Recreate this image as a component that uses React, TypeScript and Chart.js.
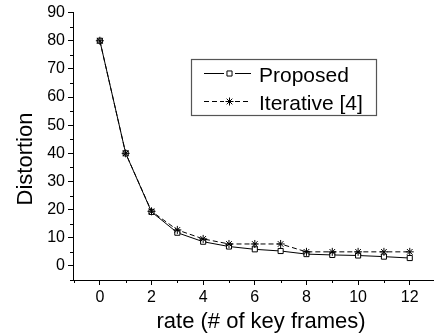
import React, { useEffect, useRef } from "react";
import { Chart, registerables } from "chart.js";

Chart.register(...registerables);

const rates = [0, 1, 2, 3, 4, 5, 6, 7, 8, 9, 10, 11, 12];
const proposed = [80, 40, 19.2, 11.8, 8.6, 6.9, 5.9, 5.3, 4.2, 3.9, 3.7, 3.3, 2.8];
const iterative = [80, 40, 19.4, 12.8, 9.6, 7.8, 7.8, 7.8, 5.0, 5.0, 5.0, 5.0, 5.0];
const seriesNames = ["Proposed", "Iterative [4]"];
const xTicks = [0, 2, 4, 6, 8, 10, 12];
const xMinorTicks = [-1, 1, 3, 5, 7, 9, 11];
const yTicks = [0, 10, 20, 30, 40, 50, 60, 70, 80, 90];
const yMinorTicks = [-5, 5, 15, 25, 35, 45, 55, 65, 75, 85];
const xTitle = "rate (# of key frames)";
const yTitle = "Distortion";

const FONT = "'Liberation Sans', Arial, sans-serif";

function drawMarker(ctx: CanvasRenderingContext2D, style: string, r: number, x: number, y: number) {
  ctx.save();
  ctx.strokeStyle = "#000";
  ctx.lineWidth = 1;
  ctx.setLineDash([]);
  if (style === "rect") {
    const s = Math.SQRT1_2 * r;
    ctx.fillStyle = "#fff";
    ctx.beginPath();
    ctx.rect(x - s, y - s, 2 * s, 2 * s);
    ctx.fill();
    ctx.stroke();
  } else {
    ctx.beginPath();
    for (let k = 0; k < 4; k++) {
      const a = (k * Math.PI) / 4;
      ctx.moveTo(x - Math.cos(a) * r, y - Math.sin(a) * r);
      ctx.lineTo(x + Math.cos(a) * r, y + Math.sin(a) * r);
    }
    ctx.stroke();
  }
  ctx.restore();
}

const decorPlugin = {
  id: "decor",
  afterDraw(chart: any) {
    const ctx = chart.ctx;
    const xs = chart.scales.x;
    const ys = chart.scales.y;
    ctx.save();
    ctx.strokeStyle = "#000";
    ctx.lineWidth = 1;
    // minor ticks
    ctx.beginPath();
    xMinorTicks.forEach((v) => {
      const px = Math.round(xs.getPixelForValue(v)) + 0.5;
      ctx.moveTo(px, xs.top);
      ctx.lineTo(px, xs.top + 3);
    });
    yMinorTicks.forEach((v) => {
      const py = Math.round(ys.getPixelForValue(v)) + 0.5;
      ctx.moveTo(ys.right, py);
      ctx.lineTo(ys.right - 3, py);
    });
    ctx.stroke();

    // axis titles
    ctx.fillStyle = "#000";
    ctx.font = `22px ${FONT}`;
    ctx.textAlign = "center";
    ctx.textBaseline = "alphabetic";
    ctx.fillText(xTitle, 261, 328);
    ctx.save();
    ctx.translate(32, 159);
    ctx.rotate(-Math.PI / 2);
    ctx.fillText(yTitle, 0, 0);
    ctx.restore();

    // legend
    const bx = 191.5, by = 59.5, bw = 185, bh = 56;
    ctx.strokeStyle = "#555";
    ctx.lineWidth = 1.2;
    ctx.strokeRect(bx, by, bw, bh);
    const rows = [73.5, 101.5];
    chart.data.datasets.forEach((ds: any) => {
      const idx = ds.label === seriesNames[0] ? 0 : 1;
      const y = rows[idx];
      ctx.save();
      ctx.strokeStyle = "#000";
      ctx.lineWidth = 1;
      ctx.setLineDash(ds.borderDash || []);
      ctx.beginPath();
      ctx.moveTo(204, y);
      ctx.lineTo(224, y);
      ctx.moveTo(235, y);
      ctx.lineTo(251, y);
      ctx.stroke();
      ctx.setLineDash([]);
      drawMarker(ctx, ds.pointStyle, ds.pointRadius, 229.5, y);
      ctx.fillStyle = "#000";
      ctx.font = `21px ${FONT}`;
      ctx.textAlign = "left";
      ctx.textBaseline = "alphabetic";
      ctx.fillText(ds.label, 259, y + 8);
      ctx.restore();
    });
    ctx.restore();
  },
};

export default function App() {
  const ref = useRef<HTMLCanvasElement>(null);
  useEffect(() => {
    const chart = new Chart(ref.current!, {
      type: "line",
      data: {
        labels: rates,
        datasets: [
          {
            label: seriesNames[0],
            data: rates.map((r, i) => ({ x: r, y: proposed[i] })),
            borderColor: "#000",
            borderWidth: 1,
            pointStyle: "rect",
            pointRadius: 3.6,
            pointBackgroundColor: "#fff",
            pointBorderColor: "#000",
            pointBorderWidth: 1,
            order: 2,
          },
          {
            label: seriesNames[1],
            data: rates.map((r, i) => ({ x: r, y: iterative[i] })),
            borderColor: "#000",
            borderWidth: 1,
            borderDash: [5, 3],
            pointStyle: "star",
            pointRadius: 4,
            pointBackgroundColor: "#000",
            pointBorderColor: "#000",
            pointBorderWidth: 1,
            order: 1,
          },
        ],
      },
      options: {
        animation: false,
        responsive: true,
        maintainAspectRatio: false,
        layout: { padding: { top: 10, right: 1, left: 0, bottom: 0 } },
        plugins: { legend: { display: false }, tooltip: { enabled: false } },
        scales: {
          x: {
            type: "linear",
            min: -1.04,
            max: 12.9,
            afterBuildTicks: (s: any) => { s.ticks = xTicks.map((v) => ({ value: v })); },
            afterFit: (s: any) => { s.height = 53; },
            border: { display: true, color: "#000", width: 1 },
            grid: { drawOnChartArea: false, tickLength: 5, color: "#000" },
            ticks: {
              autoSkip: false,
              maxRotation: 0,
              padding: 3,
              color: "#000",
              font: { family: FONT, size: 16 },
              callback: (v: any) => String(v),
            },
          },
          y: {
            type: "linear",
            min: -5,
            max: 90,
            afterBuildTicks: (s: any) => { s.ticks = yTicks.map((v) => ({ value: v })); },
            afterFit: (s: any) => { s.width = 73; },
            border: { display: true, color: "#000", width: 1 },
            grid: { drawOnChartArea: false, tickLength: 5, color: "#000" },
            ticks: {
              autoSkip: false,
              padding: 3,
              color: "#000",
              font: { family: FONT, size: 16 },
              callback: (v: any) => String(v),
            },
          },
        },
      },
      plugins: [decorPlugin],
    });
    return () => chart.destroy();
  }, []);
  return (
    <div style={{ position: "absolute", left: 0, top: 0, width: 438, height: 333, background: "#fff" }}>
      <canvas ref={ref} />
    </div>
  );
}
